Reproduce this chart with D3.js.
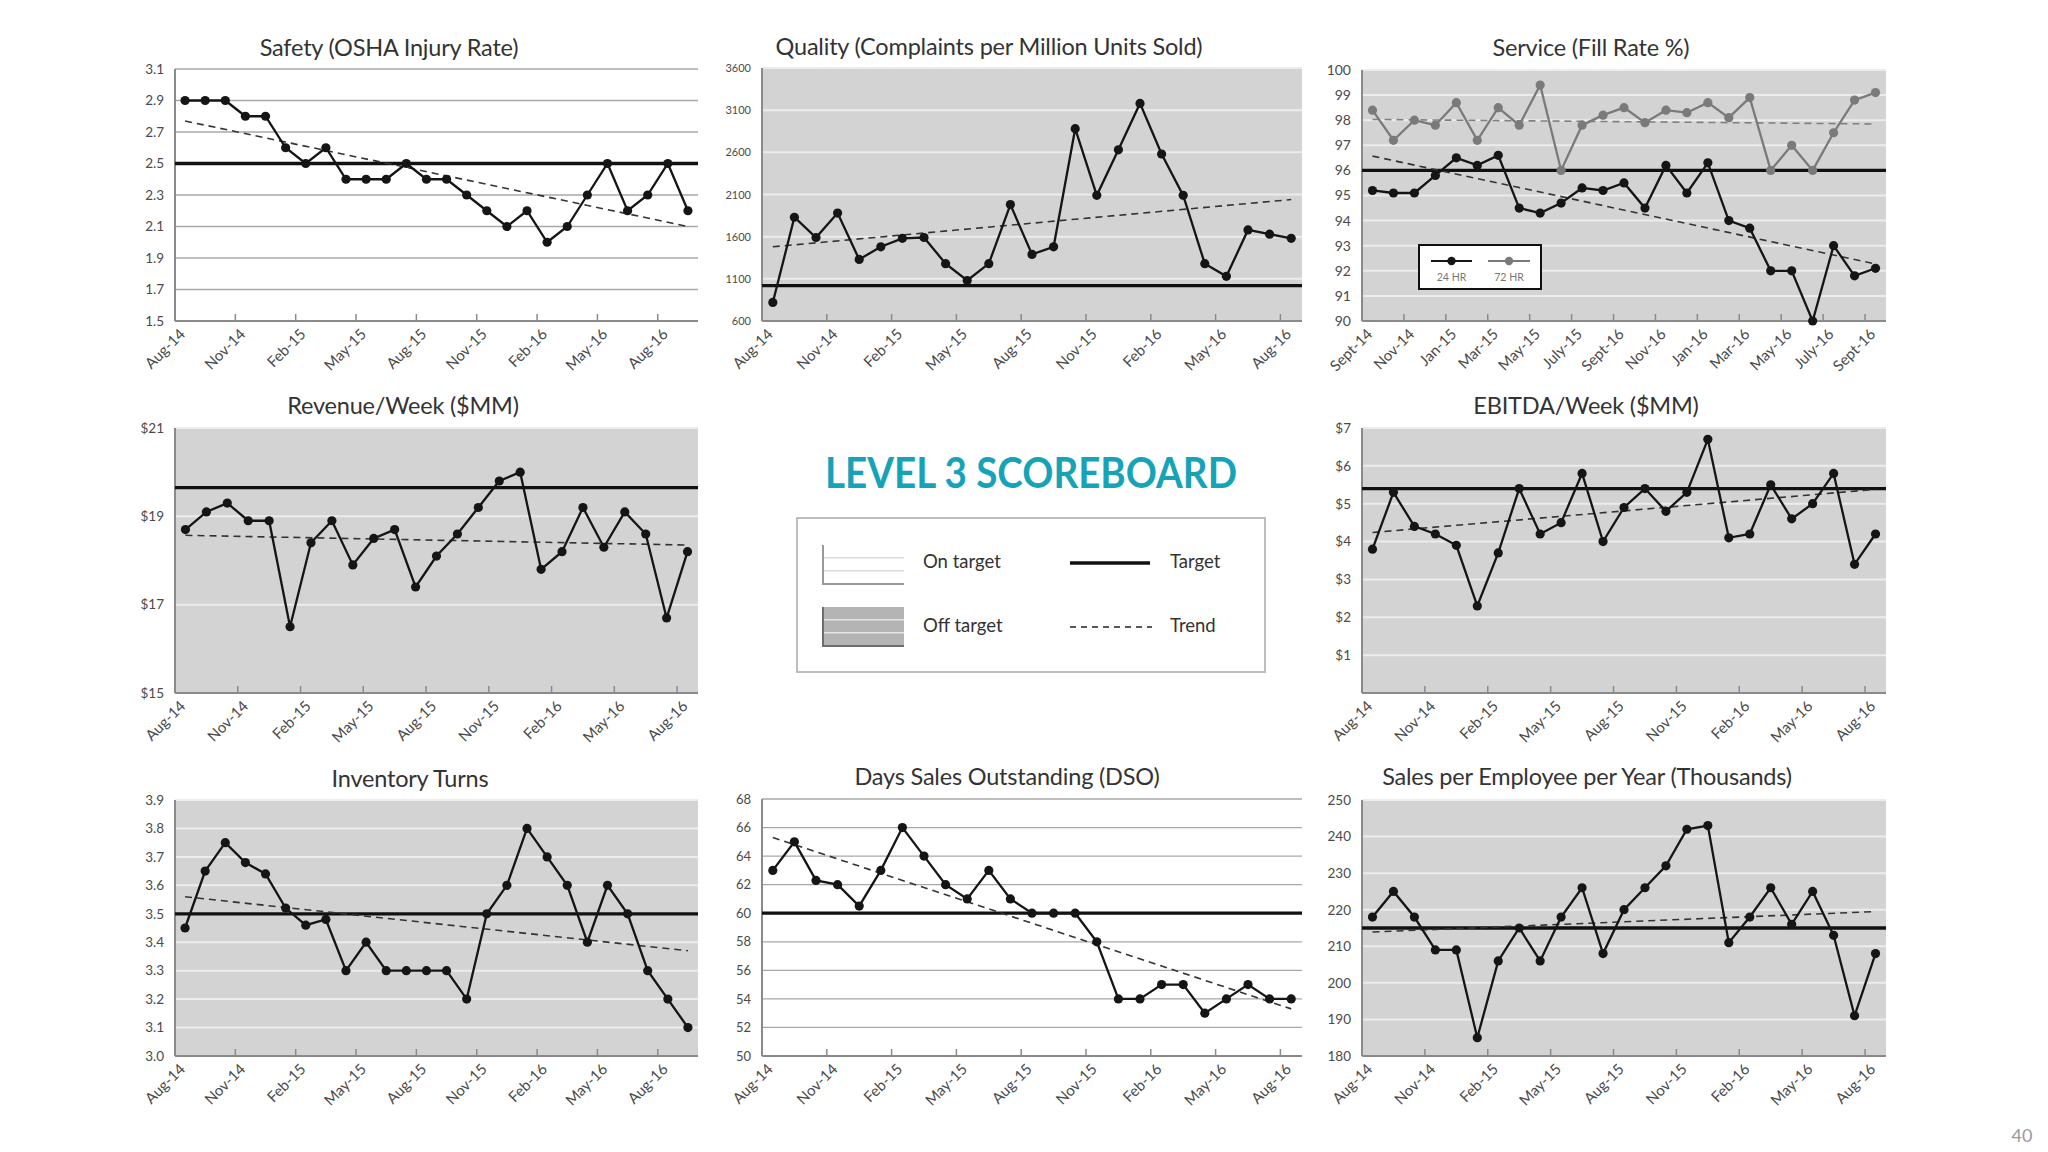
<!DOCTYPE html>
<meta charset="utf-8">
<html>
<head>
<style>
  body { margin: 0; background: #fff; }
  svg text { font-family: Lato, "Open Sans", sans-serif; }
</style>
</head>
<body>
<script src="https://cdn.jsdelivr.net/npm/d3@7"></script>
<script>
  // categories (one per month)
  var months25 = ["Aug-14", "Sep-14", "Oct-14", "Nov-14", "Dec-14", "Jan-15", "Feb-15", "Mar-15", "Apr-15",
    "May-15", "Jun-15", "Jul-15", "Aug-15", "Sep-15", "Oct-15", "Nov-15", "Dec-15", "Jan-16", "Feb-16",
    "Mar-16", "Apr-16", "May-16", "Jun-16", "Jul-16", "Aug-16"];
  var months26 = months25.concat(["Sep-16"]);
  var monthsSvc = ["Sep-14", "Oct-14", "Nov-14", "Dec-14", "Jan-15", "Feb-15", "Mar-15", "Apr-15", "May-15",
    "Jun-15", "Jul-15", "Aug-15", "Sep-15", "Oct-15", "Nov-15", "Dec-15", "Jan-16", "Feb-16", "Mar-16",
    "Apr-16", "May-16", "Jun-16", "Jul-16", "Aug-16", "Sep-16"];

  // x tick labels as printed on the slide
  var quarterLabels = ["Aug-14", "Nov-14", "Feb-15", "May-15", "Aug-15", "Nov-15", "Feb-16", "May-16", "Aug-16"];
  var serviceLabels = ["Sept-14", "Nov-14", "Jan-15", "Mar-15", "May-15", "July-15", "Sept-16", "Nov-16",
    "Jan-16", "Mar-16", "May-16", "July-16", "Sept-16"];

  // y ticks
  var safetyTicks = [1.5, 1.7, 1.9, 2.1, 2.3, 2.5, 2.7, 2.9, 3.1];
  var qualityTicks = [600, 1100, 1600, 2100, 2600, 3100, 3600];
  var serviceTicks = [90, 91, 92, 93, 94, 95, 96, 97, 98, 99, 100];
  var revenueTicks = [15, 17, 19, 21];
  var ebitdaTicks = [1, 2, 3, 4, 5, 6, 7];
  var inventoryTicks = [3.0, 3.1, 3.2, 3.3, 3.4, 3.5, 3.6, 3.7, 3.8, 3.9];
  var dsoTicks = [50, 52, 54, 56, 58, 60, 62, 64, 66, 68];
  var salesTicks = [180, 190, 200, 210, 220, 230, 240, 250];

  // series values
  var safety = [2.9, 2.9, 2.9, 2.8, 2.8, 2.6, 2.5, 2.6, 2.4, 2.4, 2.4, 2.5, 2.4, 2.4, 2.3, 2.2, 2.1, 2.2, 2.0,
    2.1, 2.3, 2.5, 2.2, 2.3, 2.5, 2.2];
  var quality = [820, 1830, 1590, 1880, 1330, 1480, 1580, 1590, 1280, 1080, 1280, 1980, 1390, 1480, 2880,
    2090, 2630, 3180, 2580, 2090, 1280, 1130, 1680, 1630, 1580];
  var fill24 = [95.2, 95.1, 95.1, 95.8, 96.5, 96.2, 96.6, 94.5, 94.3, 94.7, 95.3, 95.2, 95.5, 94.5, 96.2,
    95.1, 96.3, 94.0, 93.7, 92.0, 92.0, 90.0, 93.0, 91.8, 92.1];
  var fill72 = [98.4, 97.2, 98.0, 97.8, 98.7, 97.2, 98.5, 97.8, 99.4, 96.0, 97.8, 98.2, 98.5, 97.9, 98.4,
    98.3, 98.7, 98.1, 98.9, 96.0, 97.0, 96.0, 97.5, 98.8, 99.1];
  var revenue = [18.7, 19.1, 19.3, 18.9, 18.9, 16.5, 18.4, 18.9, 17.9, 18.5, 18.7, 17.4, 18.1, 18.6, 19.2,
    19.8, 20.0, 17.8, 18.2, 19.2, 18.3, 19.1, 18.6, 16.7, 18.2];
  var ebitda = [3.8, 5.3, 4.4, 4.2, 3.9, 2.3, 3.7, 5.4, 4.2, 4.5, 5.8, 4.0, 4.9, 5.4, 4.8, 5.3, 6.7, 4.1,
    4.2, 5.5, 4.6, 5.0, 5.8, 3.4, 4.2];
  var inventory = [3.45, 3.65, 3.75, 3.68, 3.64, 3.52, 3.46, 3.48, 3.30, 3.40, 3.30, 3.30, 3.30, 3.30, 3.20,
    3.50, 3.60, 3.80, 3.70, 3.60, 3.40, 3.60, 3.50, 3.30, 3.20, 3.10];
  var dso = [63, 65, 62.3, 62, 60.5, 63, 66, 64, 62, 61, 63, 61, 60, 60, 60, 58, 54, 54, 55, 55, 53, 54, 55, 54, 54];
  var sales = [218, 225, 218, 209, 209, 185, 206, 215, 206, 218, 226, 208, 220, 226, 232, 242, 243, 211, 218,
    226, 216, 225, 213, 191, 208];

  // trend line ends (first month, last month) and targets
  var safetyTrend = [2.77, 2.10], qualityTrend = [1480, 2040], fill24Trend = [96.57, 92.27],
    fill72Trend = [98.03, 97.85], revenueTrend = [18.57, 18.35], ebitdaTrend = [4.24, 5.38],
    inventoryTrend = [3.56, 3.37], dsoTrend = [65.3, 53.3], salesTrend = [213.9, 219.5];
  var targets = { safety: 2.5, quality: 1020, service: 96, revenue: 19.65, ebitda: 5.4, inventory: 3.5, dso: 60, sales: 215 };

  var width = 2048, height = 1152;
  var svg = d3.select("body").append("svg").attr("width", width).attr("height", height);

  var f1 = d3.format(".1f"), f0 = d3.format("d"), fd = function (d) { return "$" + d; };

  var charts = [
    { title: "Safety (OSHA Injury Rate)", tx: 389, ty: 56, x: 175, y: 69, w: 523, h: 252, cats: months26,
      labels: quarterLabels, every: 3, domain: [1.5, 3.1], ticks: safetyTicks, fmt: f1, fs: 13.5, white: true,
      target: targets.safety, series: [{ values: safety, trend: safetyTrend, color: "#151515" }] },
    { title: "Quality (Complaints per Million Units Sold)", tx: 989, ty: 55, x: 762, y: 68, w: 540, h: 253, cats: months25,
      labels: quarterLabels, every: 3, domain: [600, 3600], ticks: qualityTicks, fmt: f0, fs: 11,
      target: targets.quality, series: [{ values: quality, trend: qualityTrend, color: "#151515" }] },
    { title: "Service (Fill Rate %)", tx: 1591, ty: 56, x: 1362, y: 70, w: 524, h: 251, cats: monthsSvc,
      labels: serviceLabels, every: 2, domain: [90, 100], ticks: serviceTicks, fmt: f0, fs: 14,
      target: targets.service, legend: true,
      series: [{ values: fill72, trend: fill72Trend, color: "#7a7a7a", trendColor: "#808080" },
               { values: fill24, trend: fill24Trend, color: "#151515" }] },
    { title: "Revenue/Week ($MM)", tx: 403, ty: 414, x: 175, y: 428, w: 523, h: 265, cats: months25,
      labels: quarterLabels, every: 3, domain: [15, 21], ticks: revenueTicks, fmt: fd, fs: 13.5,
      target: targets.revenue, series: [{ values: revenue, trend: revenueTrend, color: "#151515" }] },
    { title: "EBITDA/Week ($MM)", tx: 1586, ty: 414, x: 1362, y: 428, w: 524, h: 265, cats: months25,
      labels: quarterLabels, every: 3, domain: [0, 7], ticks: ebitdaTicks, fmt: fd, fs: 13.5,
      target: targets.ebitda, series: [{ values: ebitda, trend: ebitdaTrend, color: "#151515" }] },
    { title: "Inventory Turns", tx: 410, ty: 787, x: 175, y: 800, w: 523, h: 256, cats: months26,
      labels: quarterLabels, every: 3, domain: [3.0, 3.9], ticks: inventoryTicks, fmt: f1, fs: 13.5,
      target: targets.inventory, series: [{ values: inventory, trend: inventoryTrend, color: "#151515" }] },
    { title: "Days Sales Outstanding (DSO)", tx: 1007, ty: 785, x: 762, y: 799, w: 540, h: 257, cats: months25,
      labels: quarterLabels, every: 3, domain: [50, 68], ticks: dsoTicks, fmt: f0, fs: 13, white: true,
      target: targets.dso, series: [{ values: dso, trend: dsoTrend, color: "#151515" }] },
    { title: "Sales per Employee per Year (Thousands)", tx: 1587, ty: 785, x: 1362, y: 800, w: 524, h: 256, cats: months25,
      labels: quarterLabels, every: 3, domain: [180, 250], ticks: salesTicks, fmt: f0, fs: 13.5,
      target: targets.sales, series: [{ values: sales, trend: salesTrend, color: "#151515" }] }
  ];

  charts.forEach(drawChart);

  function drawChart(c) {
    svg.append("text")
      .attr("x", c.tx).attr("y", c.ty)
      .attr("text-anchor", "middle")
      .style("font-size", "23.5px")
      .style("letter-spacing", "-0.2px")
      .attr("fill", "#333")
      .text(c.title);

    var g = svg.append("g").attr("transform", "translate(" + c.x + "," + c.y + ")");
    var x = d3.scaleBand().domain(c.cats).range([0, c.w]);
    var y = d3.scaleLinear().domain(c.domain).range([c.h, 0]);
    var cx = function (d) { return x(d) + x.bandwidth() / 2; };

    g.append("rect").attr("width", c.w).attr("height", c.h).attr("fill", c.white ? "#fff" : "#d3d3d3");

    // gridlines
    g.selectAll(".grid")
      .data(c.ticks.filter(function (t) { return t !== c.domain[0]; }))
      .enter().append("line")
      .attr("x1", 0).attr("x2", c.w)
      .attr("y1", function (d) { return y(d); }).attr("y2", function (d) { return y(d); })
      .style("stroke", c.white ? "#a8a8a8" : "#ececec")
      .style("stroke-width", c.white ? 1.3 : 2);

    // y labels
    var ya = g.append("g")
      .call(d3.axisLeft(y).tickValues(c.ticks).tickFormat(c.fmt).tickSize(0).tickPadding(11));
    ya.select(".domain").remove();
    ya.selectAll("text").attr("fill", "#4a4a4a").style("font-size", c.fs + "px").style("font-family", "Lato, sans-serif");

    // axis lines
    g.append("line").attr("x1", 0).attr("x2", 0).attr("y1", 0).attr("y2", c.h)
      .style("stroke", "#8a8a8a").style("stroke-width", 2);
    g.append("line").attr("x1", 0).attr("x2", c.w).attr("y1", c.h).attr("y2", c.h)
      .style("stroke", "#8a8a8a").style("stroke-width", 2);

    // tick marks between categories
    var tickCats = c.cats.filter(function (d, i) { return i > 0 && i % c.every === 0; });
    g.selectAll(".xt").data(tickCats).enter().append("line")
      .attr("x1", function (d) { return x(d); }).attr("x2", function (d) { return x(d); })
      .attr("y1", c.h).attr("y2", c.h - 7)
      .style("stroke", "#8a8a8a").style("stroke-width", 1.5);

    // x labels
    var labelCats = c.cats.filter(function (d, i) { return i % c.every === 0; });
    g.selectAll(".xl").data(c.labels).enter().append("text")
      .attr("transform", function (d, i) {
        return "translate(" + (cx(labelCats[i]) + 1) + "," + (c.h + 14) + ") rotate(-45)";
      })
      .attr("text-anchor", "end")
      .attr("fill", "#4a4a4a")
      .style("font-size", "15px")
      .text(function (d) { return d; });

    // target
    g.append("line").attr("x1", 0).attr("x2", c.w)
      .attr("y1", y(c.target)).attr("y2", y(c.target))
      .style("stroke", "#111").style("stroke-width", 3.3);

    var first = c.cats[0], last = c.cats[c.cats.length - 1];
    var line = d3.line()
      .x(function (d, i) { return cx(c.cats[i]); })
      .y(function (d) { return y(d); });

    c.series.forEach(function (s) {
      g.append("line")
        .attr("x1", cx(first)).attr("x2", cx(last))
        .attr("y1", y(s.trend[0])).attr("y2", y(s.trend[1]))
        .style("stroke", s.trendColor || "#333")
        .style("stroke-width", 1.6)
        .style("stroke-dasharray", "7,5");
    });

    c.series.forEach(function (s) {
      g.append("path").datum(s.values)
        .attr("d", line)
        .style("fill", "none")
        .style("stroke", s.color)
        .style("stroke-width", 2.3);
      g.selectAll(null).data(s.values).enter().append("circle")
        .attr("cx", function (d, i) { return cx(c.cats[i]); })
        .attr("cy", function (d) { return y(d); })
        .attr("r", 4.6)
        .style("fill", s.color);
    });

    if (c.legend) {
      var lg = svg.append("g");
      lg.append("rect").attr("x", 1419).attr("y", 245).attr("width", 122).attr("height", 44)
        .style("fill", "#fff").style("stroke", "#111").style("stroke-width", 2);
      var items = [{ name: "24 HR", color: "#151515", x0: 1431, x1: 1472 },
                   { name: "72 HR", color: "#7a7a7a", x0: 1488, x1: 1530 }];
      items.forEach(function (it) {
        lg.append("line").attr("x1", it.x0).attr("x2", it.x1).attr("y1", 261).attr("y2", 261)
          .style("stroke", it.color).style("stroke-width", 1.8);
        lg.append("circle").attr("cx", (it.x0 + it.x1) / 2).attr("cy", 261).attr("r", 4.2).style("fill", it.color);
        lg.append("text").attr("x", (it.x0 + it.x1) / 2).attr("y", 281).attr("text-anchor", "middle")
          .attr("fill", "#777").style("font-size", "10.5px").text(it.name);
      });
    }
  }

  // centre title and key
  svg.append("text")
    .attr("x", 825).attr("y", 488)
    .attr("textLength", 412).attr("lengthAdjust", "spacingAndGlyphs")
    .style("font-size", "42px").style("font-weight", 700)
    .attr("fill", "#17a3b7")
    .text("LEVEL 3 SCOREBOARD");

  var key = svg.append("g");
  key.append("rect").attr("x", 797).attr("y", 518).attr("width", 468).attr("height", 154)
    .style("fill", "#fff").style("stroke", "#bdbdbd").style("stroke-width", 2);

  function swatch(y0, fill, lineColor, edge) {
    key.append("rect").attr("x", 823).attr("y", y0).attr("width", 81).attr("height", 39).style("fill", fill);
    [0.33, 0.66].forEach(function (f) {
      key.append("line").attr("x1", 823).attr("x2", 904).attr("y1", y0 + 39 * f).attr("y2", y0 + 39 * f)
        .style("stroke", lineColor).style("stroke-width", 1.5);
    });
    key.append("path").attr("d", "M823," + y0 + "V" + (y0 + 39) + "H904")
      .style("fill", "none").style("stroke", edge).style("stroke-width", 2);
  }
  swatch(545, "#fff", "#dcdcdc", "#9a9a9a");
  swatch(607, "#b4b4b4", "#e6e6e6", "#6e6e6e");

  key.append("text").attr("x", 923).attr("y", 568).attr("fill", "#333").style("font-size", "18.5px").text("On target");
  key.append("text").attr("x", 923).attr("y", 632).attr("fill", "#333").style("font-size", "18.5px").text("Off target");
  key.append("line").attr("x1", 1070).attr("x2", 1150).attr("y1", 563).attr("y2", 563)
    .style("stroke", "#111").style("stroke-width", 3.5);
  key.append("line").attr("x1", 1070).attr("x2", 1152).attr("y1", 627).attr("y2", 627)
    .style("stroke", "#222").style("stroke-width", 1.6).style("stroke-dasharray", "6,5");
  key.append("text").attr("x", 1170).attr("y", 568).attr("fill", "#333").style("font-size", "18.5px").text("Target");
  key.append("text").attr("x", 1170).attr("y", 632).attr("fill", "#333").style("font-size", "18.5px").text("Trend");

  svg.append("text").attr("x", 2022).attr("y", 1142).attr("text-anchor", "middle")
    .attr("fill", "#9a9a9a").style("font-size", "18px").text("40");
</script>
</body>
</html>
